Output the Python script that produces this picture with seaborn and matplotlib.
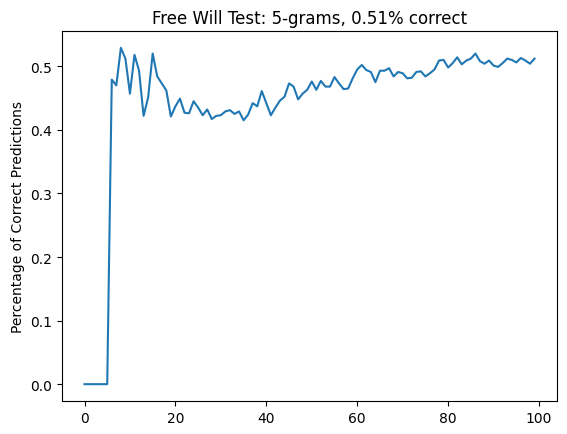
import matplotlib
matplotlib.use("Agg")
import matplotlib.pyplot as plt
import seaborn as sns
import pandas as pd

trial = list(range(100))
accuracy = [
    0.0, 0.0, 0.0, 0.0, 0.0, 0.0,
    0.479, 0.470, 0.529, 0.512, 0.457, 0.518, 0.493, 0.422, 0.451, 0.520,
    0.484, 0.473, 0.462, 0.421, 0.437, 0.449, 0.427, 0.426, 0.445, 0.435,
    0.423, 0.432, 0.417, 0.422, 0.423, 0.429, 0.431, 0.425, 0.429, 0.415,
    0.424, 0.442, 0.437, 0.461, 0.442, 0.423, 0.435, 0.446, 0.452, 0.473,
    0.468, 0.448, 0.457, 0.463, 0.476, 0.463, 0.477, 0.468, 0.468, 0.483,
    0.473, 0.464, 0.465, 0.481, 0.495, 0.502, 0.494, 0.491, 0.475, 0.493,
    0.493, 0.497, 0.484, 0.491, 0.489, 0.481, 0.482, 0.491, 0.492, 0.484,
    0.489, 0.495, 0.509, 0.510, 0.498, 0.505, 0.514, 0.503, 0.509, 0.512,
    0.520, 0.508, 0.504, 0.509, 0.501, 0.499, 0.505, 0.512, 0.510, 0.506,
    0.513, 0.509, 0.504, 0.512,
]
title = "Free Will Test: 5-grams, 0.51% correct"
ylabel = "Percentage of Correct Predictions"

df = pd.DataFrame({"trial": trial, "accuracy": accuracy})

fig = plt.figure(figsize=(5.67, 4.35), dpi=100)
ax = fig.add_axes([62 / 567, 1 - 402 / 435, (557 - 62) / 567, (402 - 32) / 435])
sns.lineplot(data=df, x="trial", y="accuracy", ax=ax, color="#1f77b4")
ax.set_title(title, fontsize=12)
ax.set_xlabel("")
ax.set_ylabel(ylabel)
fig.savefig("out.png", dpi=100)
